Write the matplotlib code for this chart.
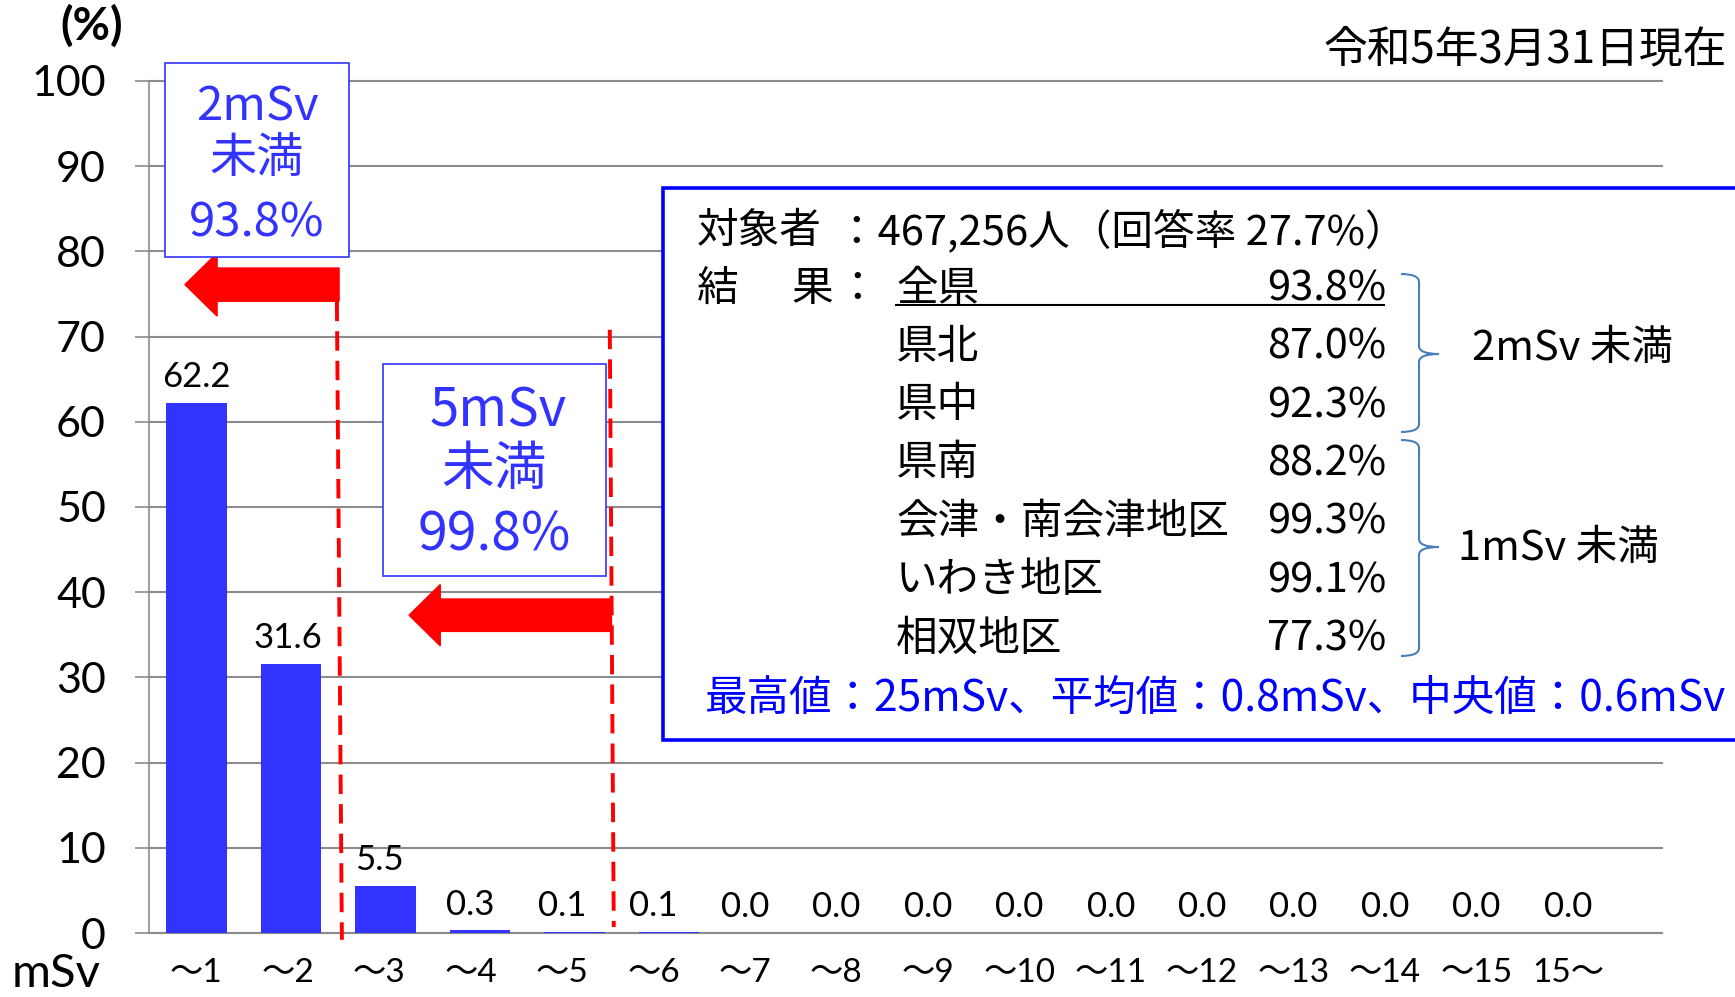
import matplotlib
matplotlib.use('Agg')
import matplotlib.pyplot as plt
import numpy as np
from matplotlib.patches import Rectangle, FancyArrow, PathPatch
from matplotlib.path import Path

# data
categories = ['～1', '～2', '～3', '～4', '～5', '～6', '～7', '～8',
              '～9', '～10', '～11', '～12', '～13', '～14', '～15', '15～']
percent = [62.2, 31.6, 5.5, 0.3, 0.1, 0.1, 0.03, 0.0,
           0.0, 0.0, 0.0, 0.0, 0.0, 0.0, 0.0, 0.0]
yticks = [0, 10, 20, 30, 40, 50, 60, 70, 80, 90, 100]

regions = ['全県', '県北', '県中', '県南', '会津・南会津地区', 'いわき地区', '相双地区']
region_rates = ['93.8%', '87.0%', '92.3%', '88.2%', '99.3%', '99.1%', '77.3%']

BAR = '#3333ff'
GRID = '#8c8c8c'
JP = ['Noto Sans CJK JP', 'DejaVu Sans']
LAT = ['Lato', 'Noto Sans CJK JP']

W, H = 1735, 997
fig = plt.figure(figsize=(W / 100, H / 100), dpi=100)
ax = fig.add_axes([149 / W, 1 - 933 / H, (1662 - 149) / W, (933 - 81) / H])

x = np.arange(len(categories))
# in the source the text labels drift a little left of the bars
lab_x = x * 0.967
ax.bar(x, percent, width=0.64, color=BAR, zorder=3)
for xi, v in zip(lab_x, percent):
    ax.annotate(f'{v:.1f}', (xi, v), xytext=(0, 7), textcoords='offset points',
                ha='center', va='bottom', fontsize=25, family=LAT, zorder=4)

ax.set_xlim(-0.5, len(categories) - 0.5)
ax.set_ylim(0, 100)
ax.set_yticks(yticks)
ax.set_yticklabels([str(t) for t in yticks], family=LAT, fontsize=31)
ax.set_xticks(lab_x)
ax.set_xticklabels(categories, family=LAT, fontsize=24)
ax.tick_params(axis='y', direction='out', length=10, width=1.2, color=GRID, pad=21)
ax.tick_params(axis='x', length=0, pad=18)
ax.grid(axis='y', color=GRID, linewidth=1.5, zorder=0)
for t in ax.yaxis.get_major_ticks():
    t.gridline.set_clip_on(False)
for s in ['top', 'right']:
    ax.spines[s].set_visible(False)
ax.spines['left'].set_color(GRID)
ax.spines['left'].set_linewidth(1.2)
ax.spines['bottom'].set_color(GRID)
ax.spines['bottom'].set_linewidth(1.5)
ax.set_axisbelow(True)

# red dashed dividers and arrows (data coords)
ax.plot([1.487, 1.540], [74.1, -0.8], color='red', lw=2.8, dashes=(5, 2.6), clip_on=False, zorder=5)
ax.plot([4.373, 4.415], [70.8, 0.7], color='red', lw=2.8, dashes=(5, 2.6), clip_on=False, zorder=5)
ax.add_patch(FancyArrow(1.51, 76.1, -1.63, 0, width=3.9, head_width=7.4, head_length=0.34,
                        length_includes_head=True, color='red', clip_on=False, zorder=5))
ax.add_patch(FancyArrow(4.39, 37.3, -2.14, 0, width=3.8, head_width=7.2, head_length=0.33,
                        length_includes_head=True, color='red', clip_on=False, zorder=5))

# overlay in pixel coords
ov = fig.add_axes([0, 0, 1, 1], zorder=5)
ov.set_xlim(0, W)
ov.set_ylim(H, 0)
ov.axis('off')
ov.patch.set_visible(False)

ov.text(60, 26, '(%)', fontsize=33, fontweight='bold', family=LAT, va='center', ha='left')
ov.text(12, 974, 'mSv', fontsize=34, family=LAT, va='center', ha='left')
ov.text(1727, 49, '令和5年3月31日現在', fontsize=31.5, family=JP, va='center', ha='right')

# small boxes
dy = 4
ov.add_patch(Rectangle((165, 63), 184, 194, facecolor='white', edgecolor=BAR, lw=1.2))
ov.text(257, 103 + dy, '2mSv', fontsize=34, color=BAR, family=JP, ha='center', va='center')
ov.text(257, 155 + dy, '未満', fontsize=34, color=BAR, family=JP, ha='center', va='center')
ov.text(257, 219 + dy, '93.8%', fontsize=34, color=BAR, family=JP, ha='center', va='center')

ov.add_patch(Rectangle((383, 364), 223, 212, facecolor='white', edgecolor=BAR, lw=1.2))
ov.text(498, 407 + dy, '5mSv', fontsize=38, color=BAR, family=JP, ha='center', va='center')
ov.text(494, 465 + dy, '未満', fontsize=38, color=BAR, family=JP, ha='center', va='center')
ov.text(494, 531 + dy, '99.8%', fontsize=38.5, color=BAR, family=JP, ha='center', va='center')

# info box
ov.add_patch(Rectangle((663, 188), 1200, 552, facecolor='white', edgecolor='#0000ff', lw=2.6))
fs = 30
ov.text(697, 227 + dy, '対象者', fontsize=fs, family=JP, va='center')
ov.text(836, 227 + dy, '：467,256人（回答率 27.7%）', fontsize=fs, family=JP, va='center')
ov.text(697, 285 + dy, '結', fontsize=fs, family=JP, va='center')
ov.text(791, 285 + dy, '果', fontsize=fs, family=JP, va='center')
ov.text(836, 285 + dy, '：', fontsize=fs, family=JP, va='center')
row_y = 285 + dy + 58.3 * np.arange(len(regions))
for name, rate, yy in zip(regions, region_rates, row_y):
    ov.text(896, yy, name, fontsize=fs, family=JP, va='center')
    ov.text(1386, yy, rate, fontsize=fs, family=JP, va='center', ha='right')
ov.plot([896, 1384], [305, 305], color='black', lw=1.5)
ov.text(705, 695 + dy, '最高値：25mSv、平均値：0.8mSv、中央値：0.6mSv', fontsize=30.6,
        family=JP, va='center', color='#0000ff')


def brace(x0, x1, x2, yt, ym, yb, r=8):
    verts = [(x0, yt), (x1, yt), (x1, yt + r), (x1, ym - r), (x1, ym), (x2, ym),
             (x1, ym), (x1, ym + r), (x1, yb - r), (x1, yb), (x0, yb)]
    codes = [Path.MOVETO, Path.CURVE3, Path.CURVE3, Path.LINETO, Path.CURVE3, Path.CURVE3,
             Path.CURVE3, Path.CURVE3, Path.LINETO, Path.CURVE3, Path.CURVE3]
    ov.add_patch(PathPatch(Path(verts, codes), facecolor='none', edgecolor='#4a7ebb', lw=1.5))


brace(1401, 1419, 1439, 274, 354, 432)
brace(1401, 1419, 1439, 440, 547, 656)
ov.text(1472, 344 + dy, '2mSv 未満', fontsize=fs, family=JP, va='center')
ov.text(1458, 544 + dy, '1mSv 未満', fontsize=fs, family=JP, va='center')

fig.savefig('out.png', dpi=100)
